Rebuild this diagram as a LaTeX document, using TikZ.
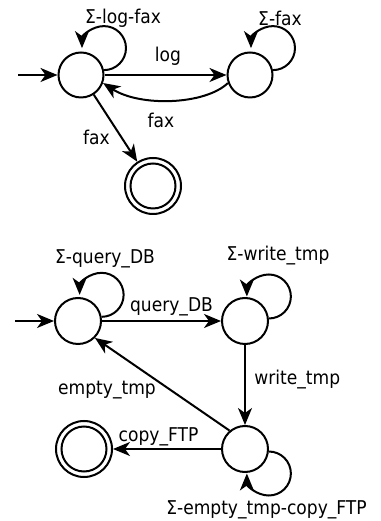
\documentclass[tikz,border=0pt]{standalone}
\usepackage{fontspec}
\setmainfont{DejaVu Sans}[FakeStretch=0.9]
\usetikzlibrary{arrows.meta}
\begin{document}
\begin{tikzpicture}[x=1pt,y=1pt,
  state/.style={circle, draw, line width=2pt, minimum size=45pt, inner sep=0pt},
  final/.style={circle, draw, line width=2pt, minimum size=56pt, inner sep=0pt},
  arr/.style={line width=2pt, -{Stealth[length=17pt,width=14pt,inset=5pt]}},
  lbl/.style={font=\fontsize{19}{22}\selectfont, inner sep=0pt}]
\useasboundingbox (0,0) rectangle (380,521);
% ---- top automaton
\node[state] (A) at (81,446) {};
\node[state] (B) at (250,446) {};
\node[final] (C) at (153,335) {};
\draw[line width=2pt] (C.center) circle[radius=22.5];
\coordinate (iA) at (18,446);
\draw[arr] (iA) -- (A);
\draw[arr] (A) -- (B) node[lbl, midway, xshift=2.5pt, yshift=19pt] {log};
\draw[arr] (B.200) .. controls (205,416) and (140,414) .. (A.-20)
  node[lbl, pos=0.5, xshift=-9.75pt, yshift=-20pt] {fax};
\draw[arr] (A) -- (C) node[lbl, midway, xshift=-19pt, yshift=-9pt] {fax};
\draw[arr] (A.12) arc[start angle=-90, end angle=180, radius=22];
\draw[arr] (B.12) arc[start angle=-90, end angle=180, radius=22];
\node[lbl] (LA) at (123,502.5) {Σ-log-fax};
\node[lbl] (LB) at (280,502.5) {Σ-fax};
% ---- bottom automaton
\node[state, minimum size=46pt] (D) at (78,200) {};
\node[state, minimum size=46pt] (E) at (245,200) {};
\node[state, minimum size=46pt] (F) at (245,72) {};
\node[final] (G) at (84,72) {};
\draw[line width=2pt] (G.center) circle[radius=22.5];
\coordinate (iD) at (15,200);
\draw[arr] (iD) -- (D);
\draw[arr] (D) -- (E) node[lbl, midway, xshift=10pt, yshift=14.5pt] {query\_DB};
\draw[arr] (E) -- (F) node[lbl, midway, xshift=52.3pt, yshift=5pt] {write\_tmp};
\draw[arr] (F.130) -- (D.-45) node[lbl, midway, xshift=-55.3pt, yshift=-6.2pt] {empty\_tmp};
\draw[arr] (F) -- (G) node[lbl, midway, xshift=-8.5pt, yshift=12pt] {copy\_FTP};
\draw[arr] (D.10) arc[start angle=-90, end angle=180, radius=22];
\draw[arr] (E.6) arc[start angle=-90, end angle=180, radius=22];
\draw[arr] (F.-6) arc[start angle=90, end angle=-180, radius=22];
\node[lbl] (LD) at (105,262.5) {Σ-query\_DB};
\node[lbl] (LE) at (278,265.5) {Σ-write\_tmp};
\node[lbl] (LF) at (266.5,11) {Σ-empty\_tmp-copy\_FTP};
\end{tikzpicture}
\end{document}
